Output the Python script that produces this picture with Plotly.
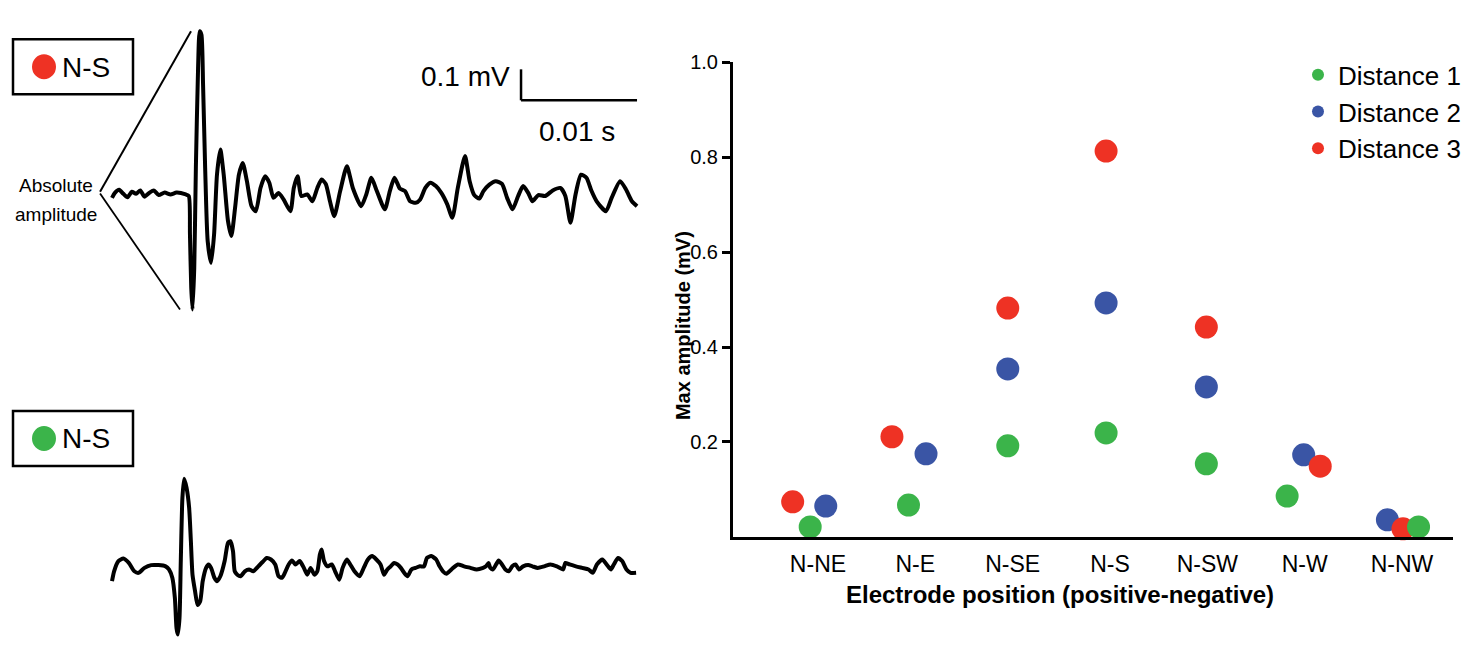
import plotly.graph_objects as go

W, H = 1470, 657

# --- right panel: max amplitude per electrode pair ---
positions = ['N-NE', 'N-E', 'N-SE', 'N-S', 'N-SW', 'N-W', 'N-NW']
dist1 = [0.021, 0.067, 0.192, 0.219, 0.154, 0.086, 0.021]
dist2 = [0.065, 0.175, 0.354, 0.493, 0.316, 0.173, 0.036]
dist3 = [0.074, 0.211, 0.482, 0.813, 0.442, 0.149, 0.017]
# horizontal jitter (category units) so overlapping dots stay visible
jit1 = [-0.08, -0.07, -0.05, -0.04, -0.01, -0.18, 0.17]
jit2 = [0.08, 0.11, -0.05, -0.04, -0.01, -0.01, -0.15]
jit3 = [-0.26, -0.24, -0.05, -0.04, -0.01, 0.16, 0.01]

# --- left panel: example N-S recordings (time in ms, voltage in mV) ---
t_far = [0.00, 0.25, 0.62, 0.98, 1.34, 1.71, 2.07, 2.44, 2.80, 3.24,
         3.60, 4.03, 4.54, 5.05, 5.56, 6.36, 6.62, 6.72, 6.83, 6.94,
         7.09, 7.23, 7.42, 7.56, 7.71, 7.85, 8.03, 8.25, 8.54, 8.80,
         9.05, 9.34, 9.63, 10.00, 10.29, 10.61, 10.94, 11.27, 11.63, 12.03,
         12.40, 12.80, 13.20, 13.56, 13.92, 14.36, 14.79, 15.38, 15.67, 16.00,
         16.32, 16.83, 17.27, 17.70, 18.07, 18.43, 18.79, 19.16, 19.67, 20.25,
         20.76, 21.48, 21.92, 22.36, 22.83, 23.52, 23.95, 24.35, 24.82, 25.26,
         25.70, 26.17, 26.57, 27.01, 27.44, 27.92, 28.39, 28.90, 29.34, 29.81,
         30.43, 30.83, 31.23, 31.67, 32.02, 32.53, 33.08, 33.62, 34.06, 34.53,
         35.01, 35.44, 35.88, 36.24, 36.75, 37.34, 37.99, 38.65, 39.08, 39.52,
         39.96, 40.43, 40.90, 41.34, 41.78, 42.58, 43.07, 43.80, 44.31, 44.82,
         45.26]
v_far = [-0.012, 0.004, 0.014, 0.001, -0.010, 0.008, 0.001, 0.012, -0.008, 0.005,
         0.012, -0.003, 0.005, -0.001, 0.005, -0.001, -0.006, -0.130, -0.302, -0.372,
         -0.238, 0.085, 0.408, 0.526, 0.515, 0.354, 0.085, -0.152, -0.222, -0.130,
         0.063, 0.144, 0.063, -0.087, -0.135, -0.044, 0.063, 0.101, 0.042, -0.039,
         -0.055, 0.020, 0.058, 0.037, -0.012, 0.004, -0.017, -0.055, 0.020, 0.058,
         -0.006, -0.001, -0.023, 0.020, 0.047, 0.033, -0.023, -0.071, 0.010, 0.090,
         0.020, -0.039, -0.001, 0.053, 0.010, -0.049, 0.010, 0.053, 0.018, 0.010,
         -0.023, -0.028, -0.017, 0.020, 0.037, 0.026, 0.004, -0.033, -0.076, 0.020,
         0.123, 0.042, -0.003, -0.014, 0.010, 0.031, 0.042, 0.033, -0.012, -0.049,
         -0.006, 0.026, 0.004, -0.023, -0.003, -0.006, 0.012, 0.020, -0.006, -0.092,
         -0.001, 0.063, 0.053, 0.010, -0.023, -0.055, -0.012, 0.042, 0.015, -0.023,
         -0.039]

t_near = [0.00, 0.18, 0.55, 0.98, 1.45, 1.93, 2.29, 2.80, 3.38, 4.00,
          4.62, 4.91, 5.20, 5.42, 5.56, 5.67, 5.82, 5.93, 6.07, 6.22,
          6.43, 6.65, 6.80, 6.94, 7.16, 7.38, 7.60, 7.82, 8.11, 8.32,
          8.54, 8.83, 9.05, 9.34, 9.71, 10.00, 10.21, 10.43, 10.58, 10.80,
          11.09, 11.45, 11.81, 12.18, 12.61, 12.98, 13.34, 13.70, 14.07, 14.36,
          14.65, 14.90, 15.23, 15.52, 15.81, 16.18, 16.54, 16.83, 17.12, 17.45,
          17.70, 17.92, 18.07, 18.28, 18.57, 18.94, 19.23, 19.59, 19.88, 20.25,
          20.54, 20.90, 21.34, 21.70, 22.06, 22.43, 22.79, 23.15, 23.45, 23.74,
          24.03, 24.32, 24.61, 24.90, 25.19, 25.48, 25.81, 26.17, 26.54, 26.90,
          27.15, 27.52, 27.95, 28.24, 28.53, 28.83, 29.26, 29.81, 30.35, 30.90,
          31.44, 31.99, 32.24, 32.46, 32.61, 32.82, 33.11, 33.33, 33.62, 33.91,
          34.21, 34.50, 34.79, 35.08, 35.44, 35.88, 36.24, 36.71, 37.26, 37.80,
          38.35, 38.89, 39.08, 39.44, 39.99, 40.53, 41.08, 41.44, 41.80, 42.27,
          42.64, 43.00, 43.26, 43.62, 43.98, 44.35, 44.71, 45.18]
v_near = [-0.043, -0.011, 0.022, 0.030, 0.016, -0.011, -0.016, 0.000, 0.009, 0.009,
          0.005, -0.005, -0.032, -0.097, -0.194, -0.215, -0.161, 0.022, 0.226, 0.288,
          0.258, 0.194, 0.086, -0.022, -0.075, -0.120, -0.108, -0.043, 0.000, 0.011,
          0.000, -0.032, -0.043, -0.027, 0.022, 0.081, 0.086, 0.054, -0.011, -0.022,
          -0.027, -0.011, -0.005, -0.011, 0.005, 0.019, 0.032, 0.027, 0.011, -0.027,
          -0.032, -0.016, 0.011, 0.024, 0.011, 0.022, 0.000, -0.022, 0.000, -0.022,
          -0.011, 0.043, 0.059, 0.022, 0.005, 0.011, -0.011, -0.038, 0.000, 0.027,
          0.011, -0.011, -0.027, 0.000, 0.027, 0.038, 0.027, 0.011, -0.022, -0.005,
          0.005, 0.016, 0.011, 0.000, -0.016, -0.027, -0.005, 0.000, 0.005, 0.005,
          0.032, 0.038, 0.027, 0.005, -0.011, -0.019, -0.005, 0.011, 0.005, 0.000,
          -0.005, 0.000, 0.005, 0.016, 0.000, -0.005, 0.011, 0.024, 0.011, -0.005,
          -0.011, 0.005, 0.011, -0.005, 0.005, 0.009, 0.005, 0.000, 0.005, 0.011,
          0.005, -0.005, 0.016, 0.011, 0.005, 0.000, -0.005, -0.016, 0.011, 0.027,
          0.011, -0.005, 0.011, 0.032, 0.022, -0.005, -0.016, -0.016]

GREEN, BLUE, RED = '#3bb44a', '#3a55a5', '#ee3224'
FONT = 'Liberation Sans, Arial, sans-serif'

# the screenshot shows the page a little squeezed vertically with a thin band on
# top; layout positions below are given in reference-picture pixels and mapped back
Y_OFF, Y_SCALE = 9.7, 0.984
PX_PER_MV = 310  # vertical trace scale in reference pixels


def px(x):
    return x / W


def py(y):
    return 1 - (y - Y_OFF) / (Y_SCALE * H)


def mv_range(base, top, bottom):
    # voltage range of an axis whose domain spans reference rows top..bottom
    return [(base - bottom) / PX_PER_MV, (base - top) / PX_PER_MV]


PAGE_TOP, PAGE_BOTTOM = Y_OFF, Y_OFF + Y_SCALE * H

fig = go.Figure()

# waveforms
for t, v, ax in [(t_far, v_far, 'y2'), (t_near, v_near, 'y3')]:
    fig.add_trace(go.Scatter(
        x=t, y=v, xaxis='x2', yaxis=ax, mode='lines',
        line=dict(color='black', width=4, shape='spline', smoothing=0.6),
        showlegend=False, hoverinfo='skip',
    ))

# scatter (blue, red, green draw order; legend order 1, 2, 3)
for name, vals, jit, color, rank in [('Distance 2', dist2, jit2, BLUE, 2),
                                     ('Distance 3', dist3, jit3, RED, 3),
                                     ('Distance 1', dist1, jit1, GREEN, 1)]:
    fig.add_trace(go.Scatter(
        x=[i + j for i, j in zip(range(len(positions)), jit)], y=vals,
        mode='markers', name=name, legendrank=rank, legendgroup=name,
        marker=dict(color=color, size=23, line=dict(width=0)),
        cliponaxis=False,
        hovertemplate='%{y:.3f} mV<extra>' + name + '</extra>',
    ))

shapes = []
# scale bar: 0.1 mV x 10 ms, ending where the trace ends
sb_x1 = t_far[-1]
sb_x0 = sb_x1 - 10
sb_y0 = 0.303
shapes.append(dict(type='line', xref='x2', yref='y2', x0=sb_x0, x1=sb_x0,
                   y0=sb_y0, y1=sb_y0 + 0.1, line=dict(color='black', width=2.5)))
shapes.append(dict(type='line', xref='x2', yref='y2', x0=sb_x0, x1=sb_x1,
                   y0=sb_y0, y1=sb_y0, line=dict(color='black', width=2.5)))
# "absolute amplitude" bracket
shapes.append(dict(type='line', xref='x2', yref='y2', x0=-1.03, y0=0.008,
                   x1=6.81, y1=max(v_far), line=dict(color='black', width=2)))
shapes.append(dict(type='line', xref='x2', yref='y2', x0=-1.03, y0=0.002,
                   x1=5.86, y1=min(v_far), line=dict(color='black', width=1.8)))
# labelled boxes
for top, color in [(38, RED), (410, GREEN)]:
    shapes.append(dict(type='rect', xref='paper', yref='paper',
                       x0=px(13), x1=px(133), y0=py(top), y1=py(top + 55),
                       line=dict(color='black', width=2.5)))
    shapes.append(dict(type='circle', xref='paper', yref='paper',
                       x0=px(32), x1=px(56), y0=py(top + 15), y1=py(top + 40),
                       fillcolor=color, line=dict(width=0)))

annotations = [
    dict(text='N-S', x=px(60), y=py(66), xanchor='left', yanchor='middle'),
    dict(text='N-S', x=px(60), y=py(438), xanchor='left', yanchor='middle'),
    dict(text='0.1 mV', x=px(512), y=py(75), xanchor='right', yanchor='middle'),
    dict(text='0.01 s', x=px(577), y=py(130), xanchor='center', yanchor='middle'),
    dict(text='Absolute', x=px(56), y=py(184), xanchor='center', yanchor='middle',
         font=dict(size=19)),
    dict(text='amplitude', x=px(56), y=py(213), xanchor='center', yanchor='middle',
         font=dict(size=19)),
    dict(text='<b>Max amplitude (mV)</b>', x=px(683), y=py(325), textangle=-90,
         xanchor='center', yanchor='middle', font=dict(size=20)),
    dict(text='<b>Electrode position (positive-negative)</b>', x=px(1060), y=py(594),
         xanchor='center', yanchor='middle', font=dict(size=24)),
]
for a in annotations:
    a.update(xref='paper', yref='paper', showarrow=False)
    a.setdefault('font', dict(size=28))
    a['font']['family'] = FONT
    a['font']['color'] = 'black'

fig.update_layout(
    width=W, height=H,
    margin=dict(l=0, r=0, t=0, b=0),
    paper_bgcolor='white', plot_bgcolor='white',
    font=dict(family=FONT, color='black'),
    shapes=shapes, annotations=annotations,
    xaxis=dict(
        domain=[px(733), px(1453)], range=[-0.873, 6.524],
        tickvals=list(range(len(positions))), ticktext=positions,
        ticks='', showline=True, linecolor='black', linewidth=3,
        showgrid=False, zeroline=False, ticklabelstandoff=4,
        tickfont=dict(size=23, family=FONT),
    ),
    yaxis=dict(
        domain=[py(536), py(61)], range=[0, 1.0],
        tickvals=[0.2, 0.4, 0.6, 0.8, 1.0], ticktext=['0.2', '0.4', '0.6', '0.8', '1.0'],
        ticks='outside', ticklen=8, tickwidth=3, tickcolor='black',
        showline=True, linecolor='black', linewidth=3,
        showgrid=False, zeroline=False,
        tickfont=dict(size=20, family=FONT),
    ),
    xaxis2=dict(domain=[0, px(660)], range=[-9.655, 47.24], visible=False,
                anchor='y2'),
    yaxis2=dict(domain=[py(330), 1], range=mv_range(193, PAGE_TOP, 330),
                visible=False, anchor='x2'),
    yaxis3=dict(domain=[0, py(400)], range=mv_range(567, 400, PAGE_BOTTOM),
                visible=False, anchor='x2'),
    legend=dict(
        x=px(1298), y=py(50), xanchor='left', yanchor='top',
        font=dict(size=26, family=FONT), itemsizing='constant',
        tracegroupgap=0, bgcolor='rgba(0,0,0,0)',
    ),
    showlegend=True,
)

# pin the figure to the page's top-left corner (no body margin)
pin = ("document.body.style.margin='0';"
       "document.body.style.overflow='hidden';"
       "var gd=document.getElementById('{plot_id}');"
       "gd.style.position='absolute';gd.style.left='0';gd.style.top='0';")
fig.write_html('out.html', config={'displayModeBar': False}, post_script=pin)
